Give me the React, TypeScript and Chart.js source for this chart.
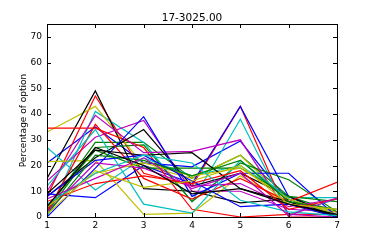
import React, { useEffect, useRef } from "react";
import { Chart, registerables } from "chart.js";

Chart.register(...registerables);

const title = "17-3025.00";
const yLabel = "Percentage of option";
const xValues = [1, 2, 3, 4, 5, 6, 7];
const yTicks = [0, 10, 20, 30, 40, 50, 60, 70];

const colorCycle = ["#0000ff", "#008000", "#ff0000", "#00bfbf", "#bf00bf", "#bfbf00", "#000000"];

const s01 = [21, 35, 21, 19.5, 29.5, 6, 0];
const s02 = [3, 29, 29, 15, 24, 8, 2];
const s03 = [8, 47, 17, 12, 43, 0, 0];
const s04 = [0, 41, 29, 6, 38, 1, 7];
const s05 = [14, 31, 37.5, 10, 10, 3, 2];
const s06 = [33, 43, 20, 15, 24, 6, 2];
const s07 = [15, 49, 11, 10, 5.5, 7, 0];
const s08 = [9, 7.5, 20, 13, 43, 8, 0];
const s09 = [2, 27, 28, 6, 21, 14.5, 2];
const s10 = [34.5, 34.5, 27, 3, 0, 1, 1];
const s11 = [27, 10.5, 23, 16, 20, 7.5, 7.5];
const s12 = [10, 39.5, 25, 25.5, 30, 1, 0];
const s13 = [21.5, 22, 1, 1.5, 16, 5, 0];
const s14 = [8, 23, 34, 12, 17, 8, 0];
const s15 = [0, 19, 39, 8, 17, 17, 0];
const s16 = [4, 26, 19, 19, 19, 8, 6];
const s17 = [2, 36, 15, 7, 15, 6, 13.5];
const s18 = [12, 34, 5, 1.5, 22, 7, 1];
const s19 = [2, 21, 19, 12, 13, 4, 7];
const s20 = [4, 17, 21, 16, 19, 7, 1];
const s21 = [9, 26, 24, 25, 11, 6, 0];
const s22 = [8, 22, 24, 14, 4, 5, 0];
const s23 = [1, 24, 22, 16, 22, 6, 3];
const s24 = [6, 13, 16, 13, 18, 3, 7];
const s25 = [5, 17, 24, 21, 6.5, 2, 0.5];
const s26 = [7, 15, 23, 11, 17, 0.5, 7.5];
const s27 = [1, 18, 11.5, 14, 20, 5, 3];
const s28 = [4, 27, 20, 9, 11, 5, 1];

const seriesList = [s01, s02, s03, s04, s05, s06, s07, s08, s09, s10, s11, s12, s13, s14, s15, s16, s17, s18, s19, s20, s21, s22, s23, s24, s25, s26, s27, s28];

const FONT = "'DejaVu Sans', sans-serif";

const framePlugin = {
  id: "mplFrame",
  afterDraw(chart: any) {
    const { ctx, chartArea } = chart;
    const { left, right, top, bottom } = chartArea;
    const xs = chart.scales.x;
    const ys = chart.scales.y;
    ctx.save();
    ctx.strokeStyle = "#000";
    ctx.lineWidth = 1;
    ctx.beginPath();
    const tl = 4;
    xValues.forEach((v) => {
      const px = Math.round(xs.getPixelForValue(v)) + 0.5;
      ctx.moveTo(px, bottom);
      ctx.lineTo(px, bottom - tl);
      ctx.moveTo(px, top);
      ctx.lineTo(px, top + tl);
    });
    yTicks.forEach((v) => {
      const py = Math.round(ys.getPixelForValue(v)) + 0.5;
      ctx.moveTo(left, py);
      ctx.lineTo(left + tl, py);
      ctx.moveTo(right, py);
      ctx.lineTo(right - tl, py);
    });
    ctx.stroke();
    ctx.strokeRect(Math.round(left) + 0.5, Math.round(top) + 0.5, Math.round(right - left), Math.round(bottom - top));
    ctx.fillStyle = "#000";
    ctx.textAlign = "center";
    ctx.textBaseline = "alphabetic";
    ctx.font = `10.5px ${FONT}`;
    ctx.fillText(title, (left + right) / 2, top - 3.5);
    ctx.translate(26, (top + bottom) / 2);
    ctx.rotate(-Math.PI / 2);
    ctx.font = `9px ${FONT}`;
    ctx.textBaseline = "alphabetic";
    ctx.fillText(yLabel, 0, 0);
    ctx.restore();
  },
};

export default function App() {
  const ref = useRef<HTMLCanvasElement>(null);
  useEffect(() => {
    document.body.style.margin = "0";
    const datasets = seriesList.map((s, i) => ({
      data: s.map((v, j) => ({ x: xValues[j], y: v })),
      borderColor: colorCycle[i % 7],
      backgroundColor: colorCycle[i % 7],
      borderWidth: 1.2,
      pointRadius: 0,
      fill: false,
      tension: 0,
      order: -i,
    }));
    const chart = new Chart(ref.current!, {
      type: "line",
      data: { datasets },
      options: {
        animation: false,
        responsive: false,
        events: [],
        layout: { padding: { top: 24, right: 37, left: 0, bottom: 0 } },
        plugins: { legend: { display: false }, tooltip: { enabled: false }, title: { display: false } },
        scales: {
          x: {
            type: "linear",
            min: 1,
            max: 7,
            grid: { display: false, drawTicks: false },
            border: { display: false },
            afterBuildTicks: (sc: any) => {
              sc.ticks = xValues.map((v) => ({ value: v }));
            },
            afterFit: (sc: any) => {
              sc.height = 32;
            },
            ticks: { color: "#000", font: { family: FONT, size: 9 }, padding: 3, maxRotation: 0 },
          },
          y: {
            type: "linear",
            min: 0,
            max: 75,
            grid: { display: false, drawTicks: false },
            border: { display: false },
            afterBuildTicks: (sc: any) => {
              sc.ticks = yTicks.map((v) => ({ value: v }));
            },
            afterFit: (sc: any) => {
              sc.width = 47;
            },
            ticks: { color: "#000", font: { family: FONT, size: 9 }, padding: 5 },
          },
        },
      },
      plugins: [framePlugin],
    });
    return () => chart.destroy();
  }, []);
  return <canvas ref={ref} width={374} height={249} style={{ display: "block", width: 374, height: 249 }} />;
}
